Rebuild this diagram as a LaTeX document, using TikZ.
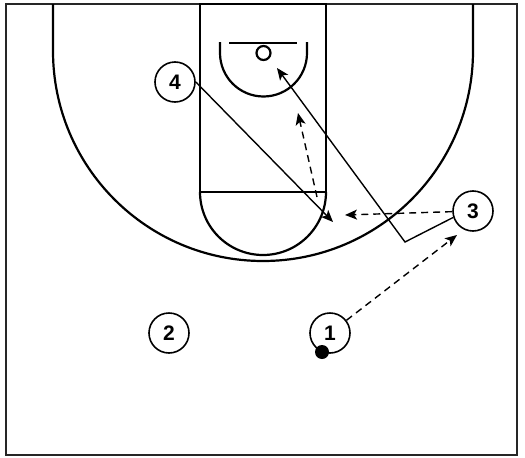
\documentclass[tikz,border=0pt]{standalone}
\usepackage{fontspec}
\setmainfont{Liberation Sans}
\usetikzlibrary{arrows.meta}
\begin{document}
\begin{tikzpicture}[x=1pt,y=-1pt,
  court/.style={line width=2.2pt},
  player/.style={circle,draw,line width=1.6pt,minimum size=40pt,inner sep=0pt,font=\fontsize{21}{21}\selectfont\bfseries},
  cut/.style={line width=1.4pt,-{Stealth[length=12pt,width=10pt,inset=3pt]}},
  pass/.style={cut,dash pattern=on 7pt off 5pt}]
\useasboundingbox (0,0) rectangle (525,458);
% outer boundary
\draw[line width=2.8pt,draw=black!85] (6,4) rectangle (517,455);
% three point line
\draw[court] (53,4) -- (53,51) arc[start angle=180,end angle=0,radius=210] -- (473,4);
% lane
\draw[court] (200,4) rectangle (326,192);
% free throw semicircle
\draw[court] (200,192) arc[start angle=180,end angle=0,radius=63];
% restricted area
\draw[court] (220,42) -- (220,53) arc[start angle=180,end angle=0,radius=43.5] -- (307,42);
% backboard and rim
\draw[court] (229,43) -- (297,43);
\draw[court] (263.5,53) circle[radius=7];
% players
\node[player] (p4) at (175,82) {4};
\node[player] (p3) at (473,211) {3};
\node[player] (p2) at (169,333) {2};
\node[player] (p1) at (330,333) {1};
\node[circle,fill,inner sep=0pt,minimum size=14pt] (ball) at (322,352) {};
% coordinates
\coordinate (c4end) at (333,222);
\coordinate (c3turn) at (405,242);
\coordinate (c3end) at (277,68);
\coordinate (passend) at (457,235);
\coordinate (pass3end) at (345,215);
\coordinate (dstart) at (317,197);
\coordinate (dend) at (298,113);
% movements
\draw[cut] (p4.east) -- (c4end);
\draw[cut] (p3.198) -- (c3turn) -- (c3end);
\draw[pass] (p1) -- (passend);
\draw[pass] (p3) -- (pass3end);
\draw[pass] (dstart) -- (dend);
\end{tikzpicture}
\end{document}
